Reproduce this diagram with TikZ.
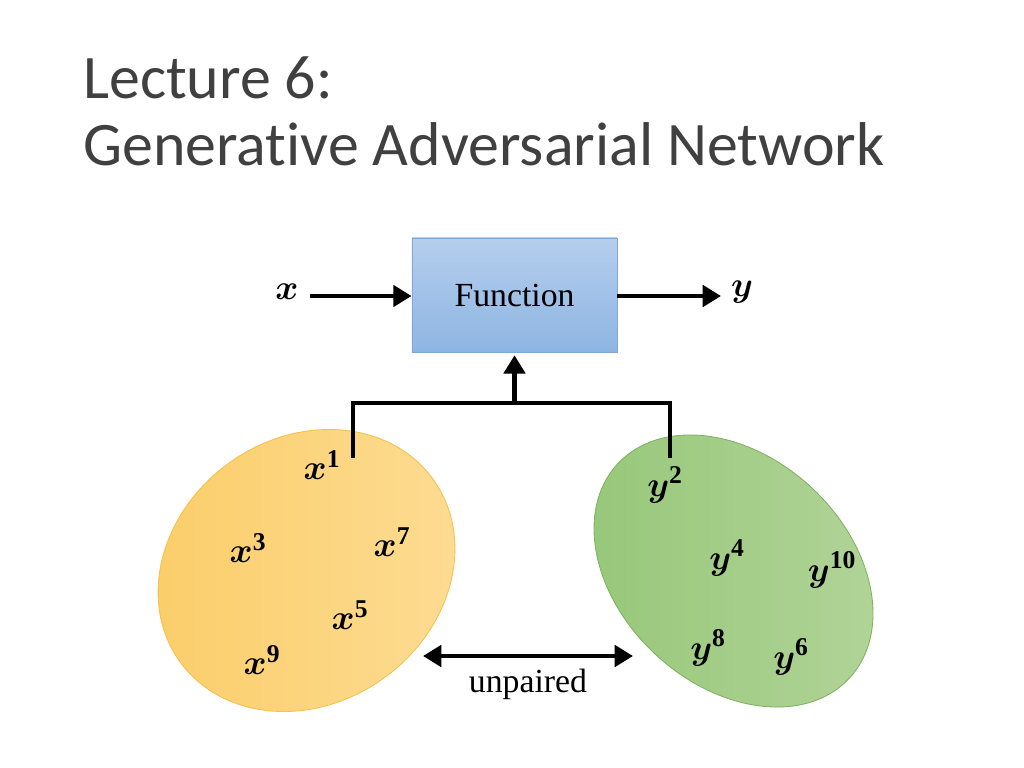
\documentclass[tikz,border=0pt]{standalone}
\usepackage{amsmath}
\usepackage{bm}
\usepackage{fontspec}
\setmainfont{Liberation Serif}
\newfontfamily\titlefont[Ligatures={NoCommon}]{Carlito}
\usetikzlibrary{shapes.geometric, arrows.meta, positioning}
\definecolor{titlegray}{RGB}{64, 64, 64}
\definecolor{functop}{RGB}{181, 206, 237}
\definecolor{funcbot}{RGB}{142, 181, 226}
\definecolor{funcedge}{RGB}{128, 167, 216}
\definecolor{xsetdark}{RGB}{251, 205, 104}
\definecolor{xsetlight}{RGB}{253, 220, 148}
\definecolor{xsetedge}{RGB}{246, 192, 76}
\definecolor{ysetdark}{RGB}{150, 199, 120}
\definecolor{ysetlight}{RGB}{178, 212, 153}
\definecolor{ysetedge}{RGB}{128, 177, 98}
\newcommand{\vx}[1]{$\bm{x}^{\mathbf{#1}}$}
\newcommand{\vy}[1]{$\bm{y}^{\mathbf{#1}}$}

\begin{document}
\begin{tikzpicture}[x=0.025cm, y=-0.025cm,
    arr/.style={line width=3.5pt, -{Triangle[length=13pt, width=15pt]}},
    dblarr/.style={line width=3.5pt, {Triangle[length=13pt, width=15pt]}-{Triangle[length=13pt, width=15pt]}},
    bar/.style={line width=3.5pt, line join=miter},
    lbl/.style={font=\fontsize{26}{30}\selectfont, inner sep=0pt},
    titletext/.style={font=\titlefont\fontsize{44}{52}\selectfont, text=titlegray, anchor=base west, inner sep=0pt},
    serif/.style={font=\fontsize{24}{28}\selectfont, inner sep=0pt}]
        \useasboundingbox (0, 0) rectangle (1024, 768);

        % Title
        \node[titletext] (title1) at (83, 99) {Lecture 6:};
        \node[titletext] (title2) at (83, 166) {Generative Adversarial Network};

        % Function box
        \node[draw=funcedge, line width=0.6pt, top color=functop, bottom color=funcbot,
              minimum width=5.125cm, minimum height=2.85cm, serif] (func) at (514.5, 295) {Function};
        \node[lbl] (xin) at (287, 292) {$\bm{x}$};
        \node[lbl] (yout) at (742, 292) {$\bm{y}$};
        \coordinate (xstart) at (310, 296);
        \coordinate (yend) at (721, 296);
        \draw[arr] (xstart) -- (func.west |- xstart);
        \draw[arr] (func.east |- yend) -- (yend);

        % Sets
        \node[ellipse, draw=xsetedge, line width=0.6pt, left color=xsetdark, right color=xsetlight,
              minimum width=7.8cm, minimum height=6.625cm, inner sep=0pt, rotate=35.8] (xset) at (306.5, 570.5) {};
        \node[ellipse, draw=ysetedge, line width=0.6pt, left color=ysetdark, right color=ysetlight,
              minimum width=7.89cm, minimum height=5.71cm, inner sep=0pt, rotate=-42.7] (yset) at (733.5, 571) {};

        % Sample pair feeding the function
        \coordinate (barL) at (353, 403);
        \coordinate (barR) at (670, 403);
        \coordinate (stemL) at (353, 458);
        \coordinate (stemR) at (670, 458);
        \draw[bar] (stemL) -- (barL) -- (barR) -- (stemR);
        \draw[arr] (func.south |- barL) -- ([yshift=-2pt]func.south);

        % x samples
        \node[lbl] (x1) at (322, 465) {\vx{1}};
        \node[lbl] (x3) at (248, 548) {\vx{3}};
        \node[lbl] (x7) at (392, 542) {\vx{7}};
        \node[lbl] (x5) at (350, 615) {\vx{5}};
        \node[lbl] (x9) at (262, 660) {\vx{9}};

        % y samples
        \node[lbl] (y2) at (665, 485) {\vy{2}};
        \node[lbl] (y4) at (727, 558) {\vy{4}};
        \node[lbl] (y10) at (832, 570) {\vy{10}};
        \node[lbl] (y8) at (708, 648) {\vy{8}};
        \node[lbl] (y6) at (791, 657) {\vy{6}};

        % Unpaired
        \coordinate (pairL) at (423, 656);
        \coordinate (pairR) at (633, 656);
        \draw[dblarr] (pairL) -- (pairR);
        \node[serif] (unpaired) at (528, 684) {unpaired};

    \end{tikzpicture}
\end{document}
